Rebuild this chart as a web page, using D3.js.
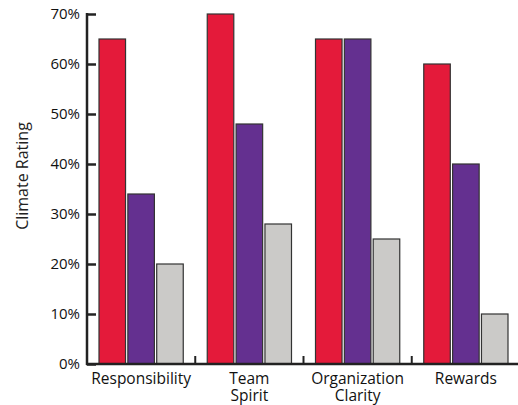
<!DOCTYPE html>
<html><head><meta charset="utf-8">
<script src="https://cdn.jsdelivr.net/npm/d3@7"></script>
<style>body{margin:0;background:#fff}svg{display:block}</style>
</head><body>
<svg id="c" width="518" height="405"></svg>
<script>
const categories = [["Responsibility"],["Team","Spirit"],["Organization","Clarity"],["Rewards"]];
const seriesNames = ["A","B","C"];
const seriesA = [65,70,65,60];
const seriesB = [34,48,65,40];
const seriesC = [20,28,25,10];
const colors = ["#e41a3a","#643090","#cbcac8"];
const yTicks = [0,10,20,30,40,50,60,70];

const svg = d3.select("#c");
const x0 = 87, x1 = 520, yTop = 14, yBot = 364;
const keys = categories.map((c,i)=>i);
const x = d3.scaleBand().domain(keys).range([x0,x1]).paddingInner(0).paddingOuter(0);
const xs = d3.scaleBand().domain([0,1,2]).range([12, x.bandwidth()-12]).paddingInner(0.08).paddingOuter(0);
const y = d3.scaleLinear().domain([0,70]).range([yBot,yTop]);
const data = [seriesA,seriesB,seriesC];
const font = "'Open Sans', 'DejaVu Sans', sans-serif";

keys.forEach(i=>{
  data.forEach((s,j)=>{
    svg.append("rect")
      .attr("x", x(i)+xs(j)).attr("y", y(s[i]))
      .attr("width", xs.bandwidth()).attr("height", yBot - y(s[i]))
      .attr("fill", colors[j]).attr("stroke","#333").attr("stroke-width",1.2);
  });
});

// y axis
const ya = svg.append("g").attr("transform",`translate(${x0},0)`)
  .call(d3.axisRight(y).tickValues(yTicks).tickSize(9).tickFormat(""));
ya.select(".domain").remove();
ya.selectAll("line").attr("stroke","#222").attr("stroke-width",2.5);
svg.append("line").attr("x1",x0).attr("x2",x0).attr("y1",yTop-1).attr("y2",yBot+1).attr("stroke","#222").attr("stroke-width",2.5);
yTicks.forEach(t=>{
  svg.append("text").attr("x",80).attr("y",y(t)+5).attr("text-anchor","end")
    .attr("font-family",font).attr("font-size",15).attr("fill","#111").text(t+"%");
});

// x axis
svg.append("line").attr("x1",x0-1).attr("x2",518).attr("y1",yBot).attr("y2",yBot).attr("stroke","#222").attr("stroke-width",2.5);
keys.slice(1).forEach(i=>{
  svg.append("line").attr("x1",x(i)).attr("x2",x(i)).attr("y1",yBot).attr("y2",yBot-8).attr("stroke","#222").attr("stroke-width",2);
});
keys.forEach(i=>{
  categories[i].forEach((line,k)=>{
    svg.append("text").attr("x",x(i)+x.bandwidth()/2).attr("y",384+k*17)
      .attr("text-anchor","middle").attr("font-family",font).attr("font-size",15.5).attr("fill","#111").text(line);
  });
});

svg.append("text").attr("transform",`translate(28,176) rotate(-90)`)
  .attr("text-anchor","middle").attr("font-family",font).attr("font-size",16).attr("fill","#222").text("Climate Rating");
</script>
</body></html>
